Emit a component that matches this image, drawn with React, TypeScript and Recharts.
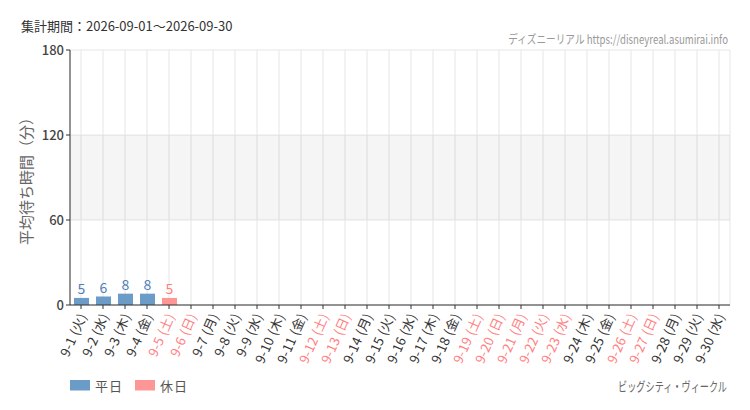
import React, { useLayoutEffect, useRef, useState } from 'react';
import { BarChart, Bar, XAxis, YAxis, CartesianGrid, ReferenceArea, LabelList, Cell } from 'recharts';

const dates = ['9-1','9-2','9-3','9-4','9-5','9-6','9-7','9-8','9-9','9-10','9-11','9-12','9-13','9-14','9-15','9-16','9-17','9-18','9-19','9-20','9-21','9-22','9-23','9-24','9-25','9-26','9-27','9-28','9-29','9-30'];
const dows = ['火','水','木','金','土','日','月','火','水','木','金','土','日','月','火','水','木','金','土','日','月','火','水','木','金','土','日','月','火','水'];
const holidayDates = ['9-5','9-6','9-12','9-13','9-19','9-20','9-21','9-22','9-23','9-26','9-27'];
const waitValues: (number | null)[] = [5,6,8,8,5,null,null,null,null,null,null,null,null,null,null,null,null,null,null,null,null,null,null,null,null,null,null,null,null,null];
const yTicks = [0, 60, 120, 180];
const legendItems = [
  { name: '平日', color: '#6b9bc7' },
  { name: '休日', color: '#ff9696' },
];

const WEEKDAY_BAR = '#6b9bc7';
const HOLIDAY_BAR = '#ff9696';
const WEEKDAY_LABEL = '#4f80b8';
const HOLIDAY_LABEL = '#ff7f7f';
const FONT = '"Noto Sans CJK JP", "Noto Sans", sans-serif';

const data = dates.map((d, i) => ({
  date: d,
  label: `${d} (${dows[i]})`,
  holiday: holidayDates.includes(d),
  value: waitValues[i],
}));

const XTick = (props: any) => {
  const { x, y, payload, index } = props;
  const item = data[index] ?? data.find((r) => r.label === payload.value);
  const color = item && item.holiday ? HOLIDAY_LABEL : '#333';
  return (
    <g transform={`translate(${x + 2},${y + 3}) rotate(-66)`}>
      <text x={0} y={0} dy="0.35em" textAnchor="end" fontSize={13} fill={color} fontFamily={FONT} letterSpacing={0.3}>
        {payload.value}
      </text>
    </g>
  );
};

const BarLabel = (props: any) => {
  const { x, y, width, value, index } = props;
  if (value == null) return null;
  const item = data[index];
  const color = item && item.holiday ? HOLIDAY_LABEL : WEEKDAY_LABEL;
  return (
    <text x={x + width / 2} y={y - 4} textAnchor="middle" fontSize={14} fill={color} fontFamily={FONT}>
      {value}
    </text>
  );
};

// Right-aligned text squeezed horizontally to a target width
const FitText = ({ right, y, width, fontSize, fill, children }: any) => {
  const ref = useRef<SVGTextElement>(null);
  const [scale, setScale] = useState(1);
  useLayoutEffect(() => {
    if (ref.current) {
      const w = ref.current.getComputedTextLength();
      if (w > 0) setScale(Math.min(1, width / w));
    }
  }, [width]);
  return (
    <text
      ref={ref}
      transform={`translate(${right},${y}) scale(${scale},1)`}
      x={0}
      y={0}
      fontSize={fontSize}
      fill={fill}
      fontFamily={FONT}
      textAnchor="end"
    >
      {children}
    </text>
  );
};

export default function App() {
  return (
    <div style={{ position: 'fixed', left: 0, top: 0, width: 750, height: 410, background: '#fff' }}>
      <BarChart
        width={750}
        height={410}
        data={data}
        margin={{ top: 50, right: 20, bottom: 0, left: 0 }}
        barSize={15}
      >
        <CartesianGrid stroke="#e6e6e6" vertical horizontal />
        <ReferenceArea y1={60} y2={120} fill="#000" fillOpacity={0.04} stroke="none" ifOverflow="hidden" />
        <XAxis
          dataKey="label"
          interval={0}
          height={105}
          tick={<XTick />}
          tickLine={{ stroke: '#333' }}
          axisLine={{ stroke: '#333' }}
          tickSize={4}
        />
        <YAxis
          width={70}
          domain={[0, 180]}
          ticks={yTicks}
          tick={{ fontSize: 13, fill: '#444', fontFamily: FONT, fontWeight: 500 }}
          tickLine={{ stroke: '#333' }}
          axisLine={{ stroke: '#333' }}
          tickSize={4}
          label={{
            value: '平均待ち時間（分）',
            angle: -90,
            position: 'insideLeft',
            offset: 27,
            style: { fontSize: 15, fill: '#666', fontFamily: FONT, textAnchor: 'middle' },
          }}
        />
        <Bar dataKey="value" isAnimationActive={false}>
          {data.map((d) => (
            <Cell key={d.date} fill={d.holiday ? HOLIDAY_BAR : WEEKDAY_BAR} />
          ))}
          <LabelList dataKey="value" content={<BarLabel />} />
        </Bar>
      </BarChart>
      <svg width={750} height={410} style={{ position: 'absolute', left: 0, top: 0, pointerEvents: 'none' }}>
        <text x={21} y={31} fontSize={13} fill="#333" fontFamily={FONT}>集計期間：2026-09-01〜2026-09-30</text>
        <FitText right={728} y={44} width={220} fontSize={12} fill="#999">ディズニーリアル https://disneyreal.asumirai.info</FitText>
        <FitText right={727} y={391} width={109} fontSize={13} fill="#666">ビッグシティ・ヴィークル</FitText>
        {legendItems.map((it, i) => (
          <g key={it.name} transform={`translate(${70 + i * 65},380)`}>
            <rect x={0} y={0} width={20} height={10.5} fill={it.color} />
            <text x={25} y={11} fontSize={13} fill="#555" fontFamily={FONT} letterSpacing={1}>{it.name}</text>
          </g>
        ))}
      </svg>
    </div>
  );
}
